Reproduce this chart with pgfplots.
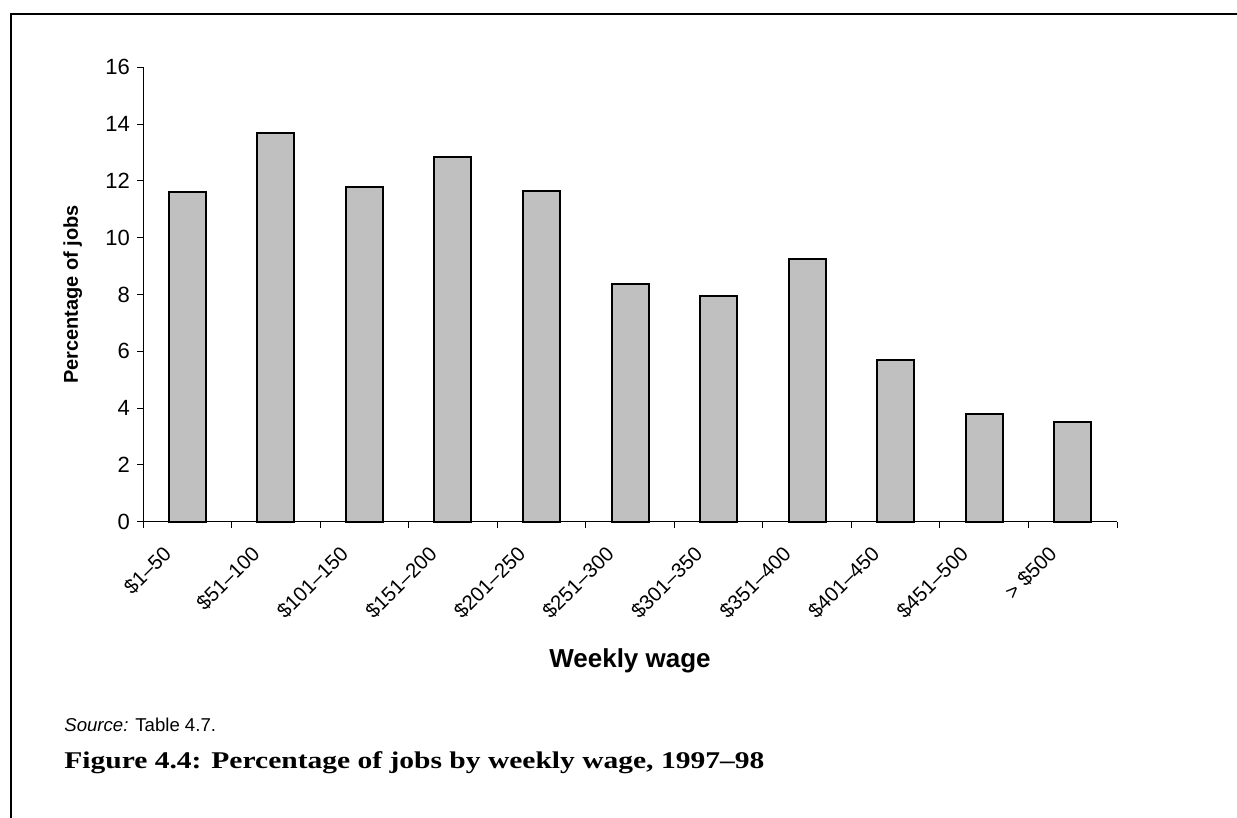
\documentclass[border=0pt]{standalone}
\usepackage{fontspec}
\setmainfont{Liberation Sans}
\newfontfamily\capfont[Ligatures=TeX, FakeStretch=1.23]{Liberation Serif}
\usepackage{pgfplots}
\pgfplotsset{compat=1.18}
\definecolor{barfill}{HTML}{C0C0C0}
\begin{document}
\begin{tikzpicture}
\begin{scope}[x=0.5pt,y=0.5pt]
\path[use as bounding box] (0,0) rectangle (1237,818);
\draw[line width=1.2pt] (11,0) -- (11,804) -- (1237,804);
\node[anchor=base west, font=\fontsize{9.3}{11}\selectfont, inner sep=0pt] at (64,86.3) {\textit{Source:} Table 4.7.};
\node[anchor=base west, font=\capfont\bfseries\fontsize{12}{14}\selectfont, inner sep=0pt] at (64,49) {Figure 4.4: Percentage of jobs by weekly wage, 1997–98};
\end{scope}
\begin{axis}[
  at={(71.5pt,148.15pt)}, anchor=south west,
  scale only axis, width=487pt, height=227.2pt,
  ymin=0, ymax=16, ytick={0,2,...,16},
  xmin=-0.5, xmax=10.5,
  axis x line*=bottom, axis y line*=left,
  axis line style={line width=0.5pt, black},
  tick align=outside,
  major tick length=3pt,
  minor tick length=3pt,
  xtick={0,...,10},
  x tick style={draw=none},
  minor xtick={-0.5,0.5,...,10.5},
  minor x tick style={draw=black, line width=0.5pt},
  y tick style={black, line width=0.5pt},
  xticklabels={\$1–50,\$51–100,\$101–150,\$151–200,\$201–250,\$251–300,\$301–350,\$351–400,\$401–450,\$451–500,{> \$500}},
  xticklabel style={rotate=45, anchor=east, font=\fontsize{10.2}{12}\selectfont, xshift=-11.6pt, yshift=-1.2pt},
  yticklabel style={font=\fontsize{11}{13}\selectfont},
  /pgf/number format/assume math mode=true,
  ylabel={Percentage of jobs},
  ylabel style={at={(axis description cs:-0.072,0.5)}, anchor=center, font=\bfseries\fontsize{10}{12}\selectfont},
  xlabel={Weekly wage},
  xlabel style={at={(axis description cs:0.5,-0.3066)}, anchor=center, font=\bfseries\fontsize{13}{15}\selectfont},
  clip=false,
]
\addplot[ybar, bar width=18.5pt, bar shift=0pt, fill=barfill, draw=black, line width=1pt]
  coordinates {(0,11.62) (1,13.68) (2,11.77) (3,12.83) (4,11.64) (5,8.38) (6,7.96) (7,9.25) (8,5.69) (9,3.79) (10,3.51)};
\end{axis}
\end{tikzpicture}
\end{document}
